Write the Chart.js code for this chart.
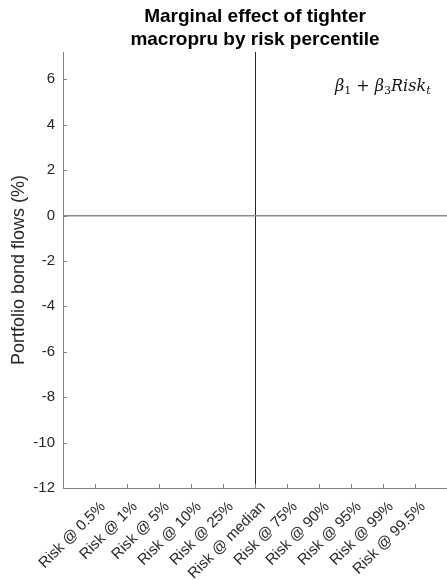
<!DOCTYPE html>
<html>
<head>
<meta charset="utf-8">
<script src="https://cdn.jsdelivr.net/npm/chart.js@4.4.0/dist/chart.umd.min.js"></script>
<style>
  body { margin: 0; background: #fff; }
</style>
</head>
<body>
<canvas id="chart" width="447" height="580"></canvas>
<script>
const categories = ['Risk @ 0.5%', 'Risk @ 1%', 'Risk @ 5%', 'Risk @ 10%', 'Risk @ 25%',
    'Risk @ median', 'Risk @ 75%', 'Risk @ 90%', 'Risk @ 95%', 'Risk @ 99%', 'Risk @ 99.5%'];
const yTicks = [-12, -10, -8, -6, -4, -2, 0, 2, 4, 6];
const yMin = -12;
const yMax = 7.2;
const medianLabel = 'Risk @ median';
const titleLines = ['Marginal effect of tighter', 'macropru by risk percentile'];
const yLabel = 'Portfolio bond flows (%)';

const axisGray = '#808080';
const textColor = '#262626';
const fontFamily = "'Liberation Sans', Arial, Helvetica, sans-serif";

// title, inward tick marks and the formula note
const extras = {
    id: 'extras',
    afterDraw(chart) {
        const { ctx, chartArea: a, scales: { x, y } } = chart;
        ctx.save();
        ctx.strokeStyle = axisGray;
        ctx.lineWidth = 1;
        ctx.beginPath();
        categories.forEach((c, i) => {
            const px = Math.round(x.getPixelForValue(i + 1)) + 0.5;
            ctx.moveTo(px, a.bottom);
            ctx.lineTo(px, a.bottom - 4);
        });
        yTicks.forEach(v => {
            const py = Math.round(y.getPixelForValue(v)) + 0.5;
            ctx.moveTo(a.left, py);
            ctx.lineTo(a.left + 4, py);
        });
        ctx.stroke();

        ctx.fillStyle = '#000';
        ctx.font = 'bold 19px ' + fontFamily;
        ctx.textAlign = 'center';
        ctx.textBaseline = 'alphabetic';
        const cx = (a.left + a.right) / 2;
        titleLines.forEach((t, i) => ctx.fillText(t, cx, 22 + i * 23));

        // beta_1 + beta_3 Risk_t
        const serif = "'DejaVu Serif', 'Liberation Serif', serif";
        const parts = [
            ['\u03B2', 'italic 16px ' + serif, 0],
            ['1', '11px ' + serif, 3],
            [' + ', '16px ' + serif, 0],
            ['\u03B2', 'italic 16px ' + serif, 0],
            ['3', '11px ' + serif, 3],
            ['Risk', 'italic 16px ' + serif, 0],
            ['t', 'italic 11px ' + serif, 3]
        ];
        ctx.textAlign = 'left';
        ctx.fillStyle = '#111';
        let tx = 335;
        parts.forEach(([s, f, dy]) => {
            ctx.font = f;
            ctx.fillText(s, tx, 91 + dy);
            tx += ctx.measureText(s).width;
        });
        ctx.restore();
    }
};

new Chart(document.getElementById('chart'), {
    type: 'scatter',
    data: { datasets: [{ data: [] }] },
    options: {
        responsive: false,
        animation: false,
        layout: { padding: { top: 52, left: 0, right: 0, bottom: 0 } },
        plugins: { legend: { display: false }, tooltip: { enabled: false } },
        scales: {
            x: {
                type: 'linear',
                min: 0,
                max: categories.length + 1,
                afterBuildTicks: s => { s.ticks = categories.map((c, i) => ({ value: i + 1 })); },
                afterFit: s => { s.height = 92; },
                ticks: {
                    autoSkip: false,
                    minRotation: 45,
                    maxRotation: 45,
                    padding: 10,
                    labelOffset: 8,
                    color: textColor,
                    font: { family: fontFamily, size: 15 },
                    callback: v => categories[v - 1]
                },
                grid: {
                    drawTicks: false,
                    color: c => (c.tick && categories[c.tick.value - 1] === medianLabel) ? '#262626' : 'rgba(0,0,0,0)'
                },
                border: { color: axisGray }
            },
            y: {
                min: yMin,
                max: yMax,
                afterBuildTicks: s => { s.ticks = yTicks.map(v => ({ value: v })); },
                afterFit: s => { s.width = 63; },
                ticks: {
                    padding: 8,
                    color: textColor,
                    font: { family: fontFamily, size: 15 }
                },
                grid: {
                    drawTicks: false,
                    color: c => (c.tick && c.tick.value === 0) ? '#8c8c8c' : 'rgba(0,0,0,0)',
                    lineWidth: 1.5
                },
                border: { color: axisGray },
                title: {
                    display: true,
                    text: yLabel,
                    color: textColor,
                    font: { family: fontFamily, size: 18 },
                    padding: { top: 8, bottom: 0 }
                }
            }
        }
    },
    plugins: [extras]
});
</script>
</body>
</html>
